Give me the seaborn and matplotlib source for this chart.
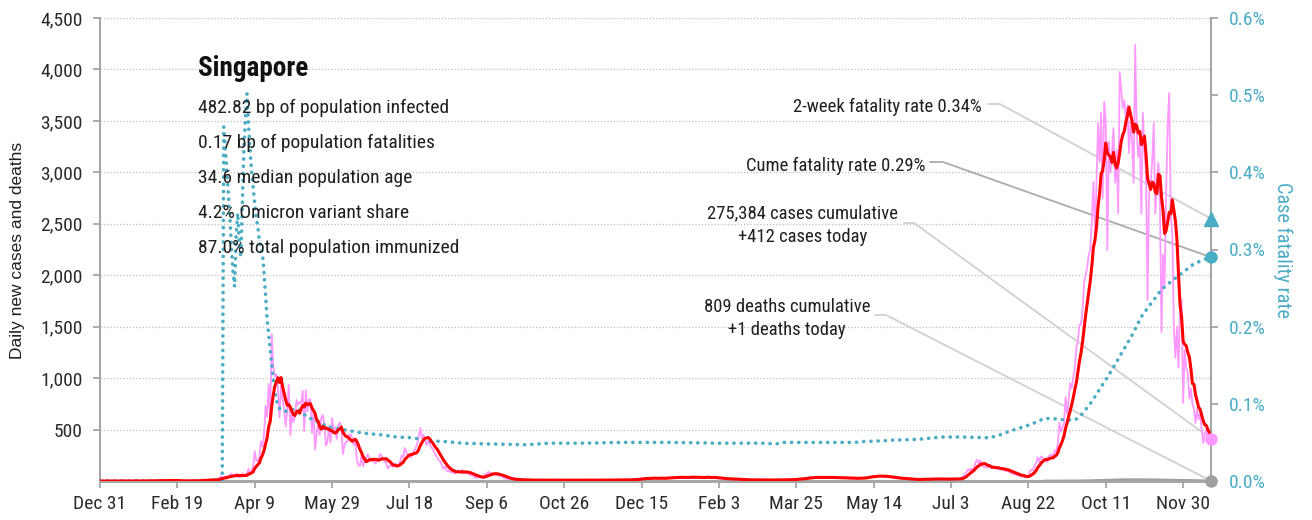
import numpy as np
import pandas as pd
import matplotlib
matplotlib.use("Agg")
import matplotlib.pyplot as plt
import matplotlib.dates as mdates
from matplotlib import font_manager as fm
from matplotlib.lines import Line2D
import seaborn as sns

# ---------------------------------------------------------------- data
START = "2019-12-31"

# New confirmed cases per day, Singapore, 2019-12-31 .. 2021-12-18
daily_cases = [
    # Dec 31 2019 + Jan 1-22 2020
    0, 0, 0, 0, 0, 0, 0, 0, 0, 0, 0, 0, 0, 0, 0, 0, 0, 0, 0, 0, 0, 0, 0,
    # Jan 23-31
    1, 2, 1, 0, 1, 2, 0, 3, 3,
    # Feb 2020
    2, 0, 0, 6, 4, 2, 3, 7, 3, 2, 2, 3, 8, 9, 5, 3, 2, 4, 3, 1,
    1, 3, 0, 1, 1, 2, 2, 3, 4,
    # Mar 2020
    4, 2, 2, 2, 5, 13, 8, 12, 10, 6, 12, 9, 13, 12, 14, 17, 23, 47, 32, 40,
    47, 23, 54, 49, 73, 52, 49, 70, 42, 35, 47,
    # Apr 2020
    74, 49, 65, 75, 120, 66, 106, 142, 287, 198, 191, 233, 386, 334, 447, 728,
    623, 942, 596, 1426, 1111, 1016, 1037, 897, 618, 931, 799, 690, 528, 690,
    # May 2020
    932, 447, 657, 573, 632, 788, 741, 768, 753, 876, 486, 884, 675, 793, 793,
    465, 682, 305, 451, 570, 448, 614, 642, 548, 344, 383, 533, 373, 611, 506, 518,
    # Jun 2020
    408, 544, 569, 516, 261, 347, 383, 386, 451, 451, 422, 347, 407, 214, 151,
    151, 247, 142, 192, 218, 262, 218, 191, 213, 191, 169, 213, 213, 262, 246,
    # Jul 2020
    215, 185, 184, 120, 141, 160, 135, 150, 170, 140, 158, 191, 250, 230, 322,
    280, 247, 248, 230, 256, 300, 322, 359, 430, 515, 420, 450, 400, 349, 393, 360,
    # Aug 2020
    330, 310, 280, 250, 230, 200, 190, 150, 120, 140, 100, 90, 110, 80, 95,
    70, 85, 100, 90, 80, 110, 75, 85, 70, 90, 60, 55, 60, 35, 30, 45,
    # Sep 2020
    35, 40, 30, 40, 70, 60, 90, 80, 75, 60, 65, 55, 70, 50, 60,
    40, 30, 25, 20, 18, 22, 15, 18, 12, 14, 11, 15, 10, 13, 9,
    # Oct 2020
    8, 12, 9, 6, 11, 8, 7, 10, 5, 9, 13, 7, 8, 6, 11, 9,
    7, 12, 5, 8, 10, 6, 9, 7, 11, 8, 5, 9, 12, 7, 8,
    # Nov 2020
    6, 9, 8, 11, 7, 5, 10, 12, 8, 6, 9, 7, 11, 10, 8,
    6, 9, 12, 7, 8, 10, 9, 11, 6, 8, 12, 9, 7, 10, 11,
    # Dec 2020
    9, 12, 8, 11, 14, 10, 9, 13, 15, 12, 18, 20, 17, 22, 26, 24,
    28, 30, 25, 29, 23, 27, 31, 26, 22, 28, 25, 30, 24, 29, 27,
    # Jan 2021
    35, 33, 28, 40, 31, 36, 38, 30, 42, 35, 33, 29, 37, 41, 34, 38,
    45, 32, 28, 35, 40, 36, 30, 33, 39, 42, 35, 30, 27, 32, 38,
    # Feb 2021
    30, 28, 25, 22, 26, 20, 18, 24, 19, 21, 16, 18, 14, 17,
    12, 15, 11, 13, 10, 12, 14, 9, 11, 10, 8, 12, 10, 9,
    # Mar 2021
    11, 9, 12, 8, 10, 13, 9, 11, 7, 10, 12, 9, 14, 10, 8, 11,
    13, 9, 12, 10, 15, 18, 14, 17, 20, 22, 19, 25, 23, 28, 26,
    # Apr 2021
    30, 35, 38, 32, 36, 40, 33, 29, 37, 35, 31, 38, 34, 36, 30,
    33, 39, 35, 28, 32, 36, 30, 27, 34, 29, 31, 25, 28, 26, 30,
    # May 2021
    24, 28, 22, 27, 30, 25, 29, 35, 38, 42, 40, 45, 48, 44, 50, 47,
    52, 46, 43, 49, 41, 45, 38, 40, 35, 31, 33, 28, 25, 30, 22,
    # Jun 2021
    26, 24, 20, 18, 22, 15, 17, 14, 16, 12, 13, 18, 15, 20, 17,
    21, 19, 16, 22, 18, 20, 23, 17, 19, 21, 16, 22, 18, 20, 17,
    # Jul 2021
    18, 20, 17, 22, 19, 21, 18, 20, 25, 35, 50, 70, 90, 115, 100, 120,
    110, 140, 190, 205, 160, 200, 150, 140, 135, 130, 140, 145, 125, 130, 120,
    # Aug 2021
    130, 115, 125, 110, 120, 105, 100, 95, 100, 80, 75, 70, 65, 60, 55, 50,
    45, 40, 48, 35, 40, 45, 95, 110, 105, 150, 175, 230, 180, 240, 230,
    # Sep 2021
    190, 215, 185, 240, 250, 260, 230, 300, 280, 360, 570, 480, 520, 560, 816,
    650, 800, 950, 900, 1010, 1100, 1300, 1370, 1520, 1516, 1662, 1924, 2000, 2080, 2200,
    # Oct 2021
    2245, 2540, 2906, 2400, 2900, 3480, 3100, 3577, 2750, 3687, 3500, 2245, 3300,
    3000, 3200, 3430, 2900, 3217, 2600, 3975, 3800, 3625, 3700, 3500, 3650, 3188,
    3500, 3300, 2900, 4237, 3400,
    # Nov 2021
    3150, 3300, 2600, 3577, 3200, 3000, 1760, 2800, 2900, 3100, 3480, 2600, 2900,
    3090, 2700, 1448, 2200, 1900, 2800, 3460, 3771, 2600, 2400, 1480, 1200, 1500,
    1100, 1700, 1760, 760,
    # Dec 1-18 2021
    1273, 1100, 1050, 800, 900, 750, 700, 563, 700, 600, 650, 500, 369, 450,
    500, 420, 398, 412,
]

# New deaths per day from 2021-09-01 (earlier daily counts stay within a pixel of zero)
DEATHS_START = "2021-09-01"
daily_deaths = [
    1, 0, 2, 1, 0, 2, 1, 1, 2, 0, 1, 2, 1, 3, 2, 1, 2, 3, 2, 1, 2, 3, 4, 2, 3, 4, 5, 3, 6, 5,
    5, 6, 7, 6, 8, 7, 9, 8, 10, 9, 11, 10, 9, 12, 11, 13, 12, 14, 15, 13, 12, 14, 16, 15,
    13, 12, 14, 15, 13, 16, 14,
    15, 13, 12, 14, 13, 11, 12, 13, 14, 12, 11, 13, 12, 10, 11, 12, 9, 10, 11, 9, 8, 10,
    9, 8, 7, 9, 8, 7, 6, 8,
    7, 6, 5, 6, 5, 4, 5, 4, 3, 4, 3, 3, 2, 3, 2, 2, 2, 1,
]

# Cumulative case fatality rate (%), keyed by days since START
cfr_day = [
    0, 79, 80, 81, 82, 83, 84, 85, 86, 87, 88, 89, 90, 91, 92, 93, 94, 95, 96, 97,
    98, 99, 100, 101, 102, 103, 104, 105, 106, 107, 108, 109, 110, 111, 112, 113,
    114, 115, 116, 117, 119, 121, 124, 127, 130, 134, 140, 148, 159, 170, 181, 192,
    202, 213, 224, 234, 250, 276, 290, 310, 338, 370, 400, 428, 437, 441, 460, 488,
    492, 505, 513, 529, 539, 544, 556, 575, 582, 587, 595, 601, 606, 610, 615, 620,
    624, 630, 633, 636, 641, 647, 654, 660, 667, 673, 680, 686, 693, 699, 706, 712, 718,
]
cfr_pct = [
    0, 0, 0.459, 0.43, 0.40, 0.37, 0.34, 0.30, 0.27, 0.252, 0.32, 0.347, 0.31, 0.29,
    0.36, 0.43, 0.47, 0.502, 0.46, 0.43, 0.40, 0.38, 0.36, 0.34, 0.33, 0.31, 0.30,
    0.295, 0.27, 0.24, 0.21, 0.19, 0.17, 0.15, 0.131, 0.115, 0.105, 0.098, 0.094,
    0.092, 0.090, 0.091, 0.092, 0.094, 0.090, 0.083, 0.077, 0.070, 0.066, 0.062,
    0.060, 0.057, 0.056, 0.052, 0.051, 0.049, 0.048, 0.047, 0.049, 0.049, 0.050,
    0.050, 0.049, 0.049, 0.048, 0.050, 0.050, 0.050, 0.051, 0.052, 0.053, 0.054,
    0.056, 0.057, 0.057, 0.056, 0.060, 0.064, 0.069, 0.073, 0.077, 0.081, 0.081,
    0.080, 0.079, 0.079, 0.083, 0.090, 0.103, 0.122, 0.144, 0.165, 0.189, 0.213,
    0.232, 0.248, 0.260, 0.269, 0.280, 0.286, 0.29,
]

two_week_cfr = 0.34
cases_cumulative = 275384
deaths_cumulative = 809

country = "Singapore"
facts = [
    "482.82 bp of population infected",
    "0.17 bp of population fatalities",
    "34.6 median population age",
    "4.2% Omicron variant share",
    "87.0% total population immunized",
]

x_tick_labels = ["Dec 31", "Feb 19", "Apr 9", "May 29", "Jul 18", "Sep 6", "Oct 26",
                 "Dec 15", "Feb 3", "Mar 25", "May 14", "Jul 3", "Aug 22", "Oct 11", "Nov 30"]
x_tick_step_days = 50
cases_ticks = [500, 1000, 1500, 2000, 2500, 3000, 3500, 4000, 4500]
cfr_ticks = [0.0, 0.1, 0.2, 0.3, 0.4, 0.5, 0.6]

# ---------------------------------------------------------------- style
PINK = "#ff99ff"
RED = "#ff0000"
TEAL = "#4bacc6"
AXGRAY = "#a6a6a6"
DEATHGRAY = "#a0a0a0"
TXT = "#1f1f1f"

sns.set_theme(style="white")


def find_font(family, weight=400, need=None):
    for f in fm.fontManager.ttflist:
        if f.name != family or f.style != "normal":
            continue
        w = f.weight if isinstance(f.weight, int) else fm.weight_dict.get(f.weight, 400)
        if w != weight:
            continue
        low = f.fname.lower()
        if need and need not in low:
            continue
        return f.fname
    return None


narrow_reg = narrow_bold = None
for fam, need in [("Liberation Sans Narrow", None), ("Roboto Condensed", None),
                  ("DejaVu Sans", "condensed")]:
    reg = find_font(fam, 400, need)
    if reg:
        narrow_reg = reg
        narrow_bold = find_font(fam, 700, need) or reg
        break
if narrow_reg is None:
    narrow_reg = fm.findfont(fm.FontProperties(family="Liberation Sans"))
    narrow_bold = fm.findfont(fm.FontProperties(family="Liberation Sans", weight="bold"))
plain_reg = fm.findfont(fm.FontProperties(family="Liberation Sans"))


def nf(size, bold=False):
    return fm.FontProperties(fname=narrow_bold if bold else narrow_reg, size=size)


# ---------------------------------------------------------------- frames
start = pd.Timestamp(START)
dates = pd.date_range(start, periods=len(daily_cases), freq="D")
cases = pd.DataFrame({"date": dates, "new_cases": daily_cases})
cases["avg7"] = cases["new_cases"].rolling(7, min_periods=1).mean()

deaths = pd.DataFrame({
    "date": pd.date_range(DEATHS_START, periods=len(daily_deaths), freq="D"),
    "new_deaths": daily_deaths,
})
deaths["avg7"] = deaths["new_deaths"].rolling(7, min_periods=1).mean()

cfr = pd.DataFrame({"date": start + pd.to_timedelta(cfr_day, unit="D"), "cfr": cfr_pct})

# ---------------------------------------------------------------- figure
W, H = 1312, 520
fig = plt.figure(figsize=(W / 100, H / 100), dpi=100)
fig.patch.set_facecolor("white")
ax = fig.add_axes([100 / W, 1 - 481 / H, 1111 / W, 463 / H])
ax2 = ax.twinx()
ax.set_zorder(ax2.get_zorder() + 1)
ax.patch.set_visible(False)

ax.set_xlim(dates[0], dates[-1])
ax.set_ylim(0, 4500)
ax2.set_ylim(0, 0.6)

sns.lineplot(data=cases, x="date", y="new_cases", ax=ax, color=PINK, lw=1.3,
             estimator=None, zorder=2)
sns.lineplot(data=cfr, x="date", y="cfr", ax=ax, color=TEAL, lw=2.6,
             linestyle=(0, (0.05, 1.95)), dash_capstyle="round",
             transform=ax2.transData, estimator=None, zorder=3)
sns.lineplot(data=deaths, x="date", y="avg7", ax=ax, color=DEATHGRAY, lw=1.8,
             estimator=None, zorder=3)
sns.lineplot(data=cases, x="date", y="avg7", ax=ax, color=RED, lw=2.2,
             estimator=None, zorder=4)

ax.set_xlim(dates[0], dates[-1])
ax.set_ylim(0, 4500)
ax2.set_ylim(0, 0.6)
ax.set_xlabel("")
ax.set_ylabel("")
ax2.set_ylabel("")

# end-of-series markers
end = dates[-1]
ax.plot([end], [two_week_cfr], marker="^", ms=10.5, color=TEAL, ls="none",
        transform=ax2.transData, clip_on=False, zorder=6)
ax.plot([end], [cfr_pct[-1]], marker="o", ms=8, color=TEAL, ls="none",
        transform=ax2.transData, clip_on=False, zorder=6)
ax.plot([end], [daily_cases[-1]], marker="o", ms=8, color=PINK, ls="none",
        clip_on=False, zorder=6)
ax.plot([end], [daily_deaths[-1]], marker="o", ms=8, color=DEATHGRAY, ls="none",
        clip_on=False, zorder=6)

# axes, ticks, grid
xt = pd.date_range(start, periods=len(x_tick_labels), freq=f"{x_tick_step_days}D")
ax.set_xticks(mdates.date2num(xt.to_pydatetime()))
ax.set_xticklabels(x_tick_labels)
ax.set_yticks(cases_ticks)
ax.set_yticklabels([f"{v:,}" for v in cases_ticks])
ax2.set_yticks(cfr_ticks)
ax2.set_yticklabels([f"{v:.1f}%" for v in cfr_ticks])

ax.tick_params(axis="x", bottom=True, length=5, width=1.3, color=AXGRAY, pad=5,
               labelcolor="#2b2b2b")
ax.tick_params(axis="y", left=True, length=5, width=1.3, color=AXGRAY, pad=7.5,
               labelcolor="#2b2b2b")
ax2.tick_params(axis="y", right=True, length=5, width=1.3, color=AXGRAY, pad=8,
                labelcolor=TEAL)
for lab in ax.get_xticklabels() + ax.get_yticklabels() + ax2.get_yticklabels():
    lab.set_fontproperties(nf(14))

ax.yaxis.grid(True, color="#bdbdbd", lw=0.9, linestyle=(0, (1, 1.6)))
ax.xaxis.grid(False)
ax2.grid(False)

for a in (ax, ax2):
    a.spines["top"].set_visible(False)
ax.spines["right"].set_visible(False)
ax2.spines["left"].set_visible(False)
ax2.spines["bottom"].set_visible(False)
ax.spines["left"].set_color(AXGRAY)
ax.spines["left"].set_linewidth(1.5)
ax.spines["bottom"].set_color(AXGRAY)
ax.spines["bottom"].set_linewidth(2.2)
ax2.spines["right"].set_color(AXGRAY)
ax2.spines["right"].set_linewidth(1.5)

# axis titles
fig.text(18 / W, 1 - 250 / H, "Daily new cases and deaths", rotation=90, ha="center",
         va="center", color=TXT, fontproperties=fm.FontProperties(fname=plain_reg, size=12.5))
fig.text(1283 / W, 1 - 250 / H, "Case fatality rate", rotation=270, ha="center",
         va="center", color=TEAL, fontproperties=nf(14.6))


# ---------------------------------------------------------------- text
def fx(px):
    return px / W


def fy(py):
    return 1 - py / H


fig.text(fx(198), fy(76), country, fontproperties=nf(19.5, bold=True), color="#111111",
         va="baseline")
for i, line in enumerate(facts):
    fig.text(fx(198), fy(113.3 + 35 * i), line, fontproperties=nf(14), color=TXT,
             va="baseline")


def to_px(trans, x, y):
    dx, dy = trans.transform((x, y))
    return dx, H - dy


end_num = mdates.date2num(end.to_pydatetime())
tri_px = to_px(ax2.transData, end_num, two_week_cfr)
cume_px = to_px(ax2.transData, end_num, cfr_pct[-1])
case_px = to_px(ax.transData, end_num, daily_cases[-1])
death_px = to_px(ax.transData, end_num, daily_deaths[-1])

labels = [
    ([f"2-week fatality rate {two_week_cfr:.2f}%"], "right", 982, [111.7],
     (988, 1000, 104), tri_px, "#d0d0d0"),
    ([f"Cume fatality rate {cfr_pct[-1]:.2f}%"], "right", 925, [170.7],
     (930, 943, 162), cume_px, "#ababab"),
    ([f"{cases_cumulative:,} cases cumulative", f"+{daily_cases[-1]:,} cases today"],
     "center", 802.5, [218.3, 241.7], (904, 914, 223), case_px, "#d0d0d0"),
    ([f"{deaths_cumulative:,} deaths cumulative", f"+{daily_deaths[-1]:,} deaths today"],
     "center", 787, [311.7, 335], (875, 886, 315), death_px, "#d0d0d0"),
]
for lines, ha, x, ys, (x0, x1, ly), (tx, ty), col in labels:
    for s, yb in zip(lines, ys):
        fig.text(fx(x), fy(yb), s, ha=ha, va="baseline", fontproperties=nf(13.4), color=TXT)
    ax.add_line(Line2D([fx(x0), fx(x1), fx(tx)], [fy(ly), fy(ly), fy(ty)],
                       transform=fig.transFigure, color=col, lw=1.3, clip_on=False,
                       zorder=1))

fig.savefig("out.png", dpi=100)
